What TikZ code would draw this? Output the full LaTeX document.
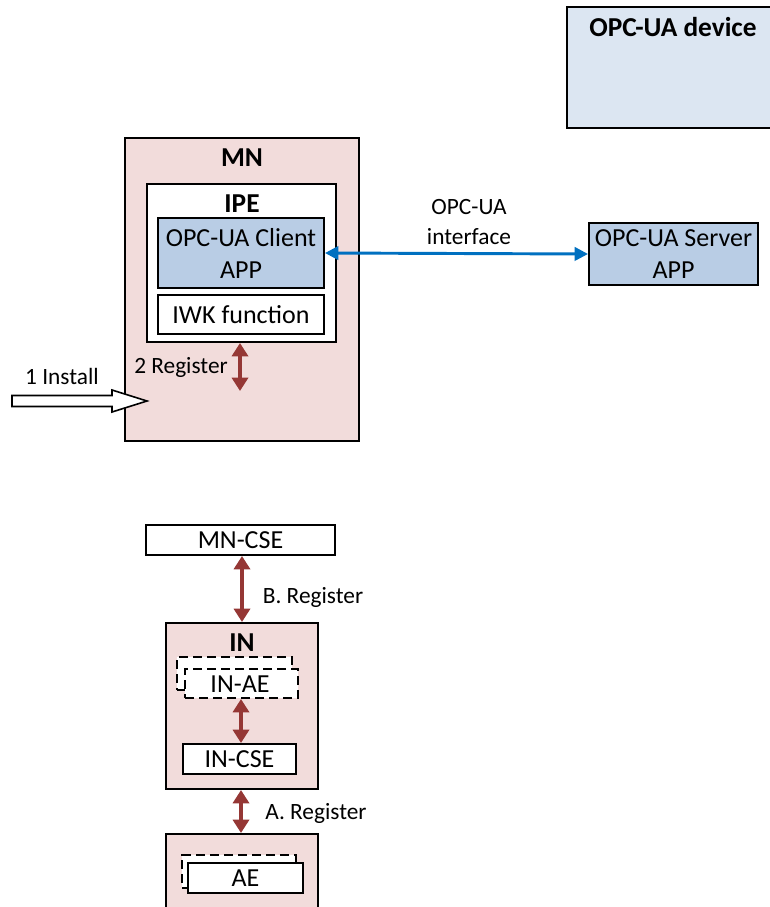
\documentclass[tikz,border=0pt]{standalone}
\usepackage{fontspec}
\setmainfont{Carlito}
\usetikzlibrary{fit,arrows.meta}
\definecolor{pinkfill}{HTML}{F2DCDB}
\definecolor{appblue}{HTML}{B9CDE5}
\definecolor{devblue}{HTML}{DCE6F2}
\definecolor{regred}{HTML}{953735}
\definecolor{ifblue}{HTML}{0070C0}
\tikzset{
  box/.style={draw=black, line width=1.5pt, inner sep=0pt, rectangle},
  dbox/.style={draw=black, line width=1.5pt, inner sep=0pt, rectangle, dash pattern=on 7pt off 3.5pt, fill=white},
  boxtxt/.style={font=\fontsize{19.5}{24}\selectfont, align=center, inner sep=0pt},
  ttl/.style={font=\fontsize{20.5}{24}\selectfont\bfseries},
  lbl/.style={font=\fontsize{17.5}{22}\selectfont, align=center},
  regarrow/.style={draw=regred, line width=3pt, {Triangle[width=12pt,length=10pt]}-{Triangle[width=12pt,length=10pt]}},
  ifarrow/.style={draw=ifblue, line width=2.2pt, {Triangle[width=10pt,length=10pt]}-{Triangle[width=10pt,length=10pt]}},
}
\begin{document}
\begin{tikzpicture}[x=0.75pt,y=-0.75pt]
\useasboundingbox (0,0) rectangle (770,907);
\fill[white] (0,0) rectangle (770,907);
\clip (0,0) rectangle (770,907);
% OPC-UA device
\node[box, fill=devblue, fit={(567,7) (779,128)}] (dev) {};
\node[ttl] (devT) at (673,27) {OPC-UA device};
% MN
\node[box, fill=pinkfill, fit={(125,138) (359,441)}] (mn) {};
\node[ttl] (mnT) at (242,158) {MN};
\node[box, fill=white, fit={(147,184) (336,342)}] (ipe) {};
\node[ttl] (ipeT) at (242,204) {IPE};
\node[box, fill=appblue, fit={(158,218) (324,288)}] (client) {};
\node[boxtxt] (clientT) at (client.center) {OPC-UA Client\\APP};
\node[box, fill=white, fit={(158,295) (324,334)}] (iwk) {};
\node[boxtxt] (iwkT) at (iwk.center) {IWK function};
\coordinate (reg2end) at (240,391);
\draw[regarrow] (ipe.south -| reg2end) -- (reg2end);
\node[lbl] (reg2) at (181,367) {2 Register};
% Install arrow
\coordinate (instTail) at (12,401);
\coordinate (instTip) at (147,401);
\draw[line width=1.2pt, fill=white] (instTail) ++(0,-5.5) -- ++(100,0) -- ++(0,-5.5) -- (instTip) -- ++(-35,11) -- ++(0,-5.5) -- ++(-100,0) -- cycle;
\node[lbl] (inst) at (62,376) {1 Install};
% Server
\node[box, fill=appblue, fit={(589,223) (758,285)}] (server) {};
\node[boxtxt] (serverT) at (server.center) {OPC-UA Server\\APP};
\draw[ifarrow] (client.east) -- (server.west);
\node[lbl] (ifl) at (469,222) {OPC-UA\\interface};
% Lower part
\node[box, fill=white, fit={(146,525) (335,555)}] (mncse) {};
\node[boxtxt] (mncseT) at (mncse.center) {MN-CSE};
\node[box, fill=pinkfill, fit={(166,623) (318,789)}] (in) {};
\node[ttl] (inT) at (242,643) {IN};
\draw[regarrow] (mncse.south -| inT) -- (in.north -| inT);
\node[lbl] (regB) at (313,597) {B. Register};
\node[dbox, fit={(177,657) (292,690)}] (inaeback) {};
\node[dbox, fit={(185,669) (298,698)}] (inae) {};
\node[boxtxt] (inaeT) at (240,684) {IN-AE};
\node[box, fill=white, fit={(183,744) (296,774)}] (incse) {};
\node[boxtxt] (incseT) at (incse.center) {IN-CSE};
\draw[regarrow] (inae.south -| 241,0) -- (incse.north -| 241,0);
\node[box, fill=pinkfill, fit={(166,834) (318,925)}] (aeouter) {};
\draw[regarrow] (in.south -| 241,0) -- (aeouter.north -| 241,0);
\node[lbl] (regA) at (316,813) {A. Register};
\node[dbox, fit={(182,855) (296,888)}] (aeback) {};
\node[box, fill=white, fit={(188,863) (303,893)}] (ae) {};
\node[boxtxt] (aeT) at (ae.center) {AE};
\end{tikzpicture}
\end{document}
